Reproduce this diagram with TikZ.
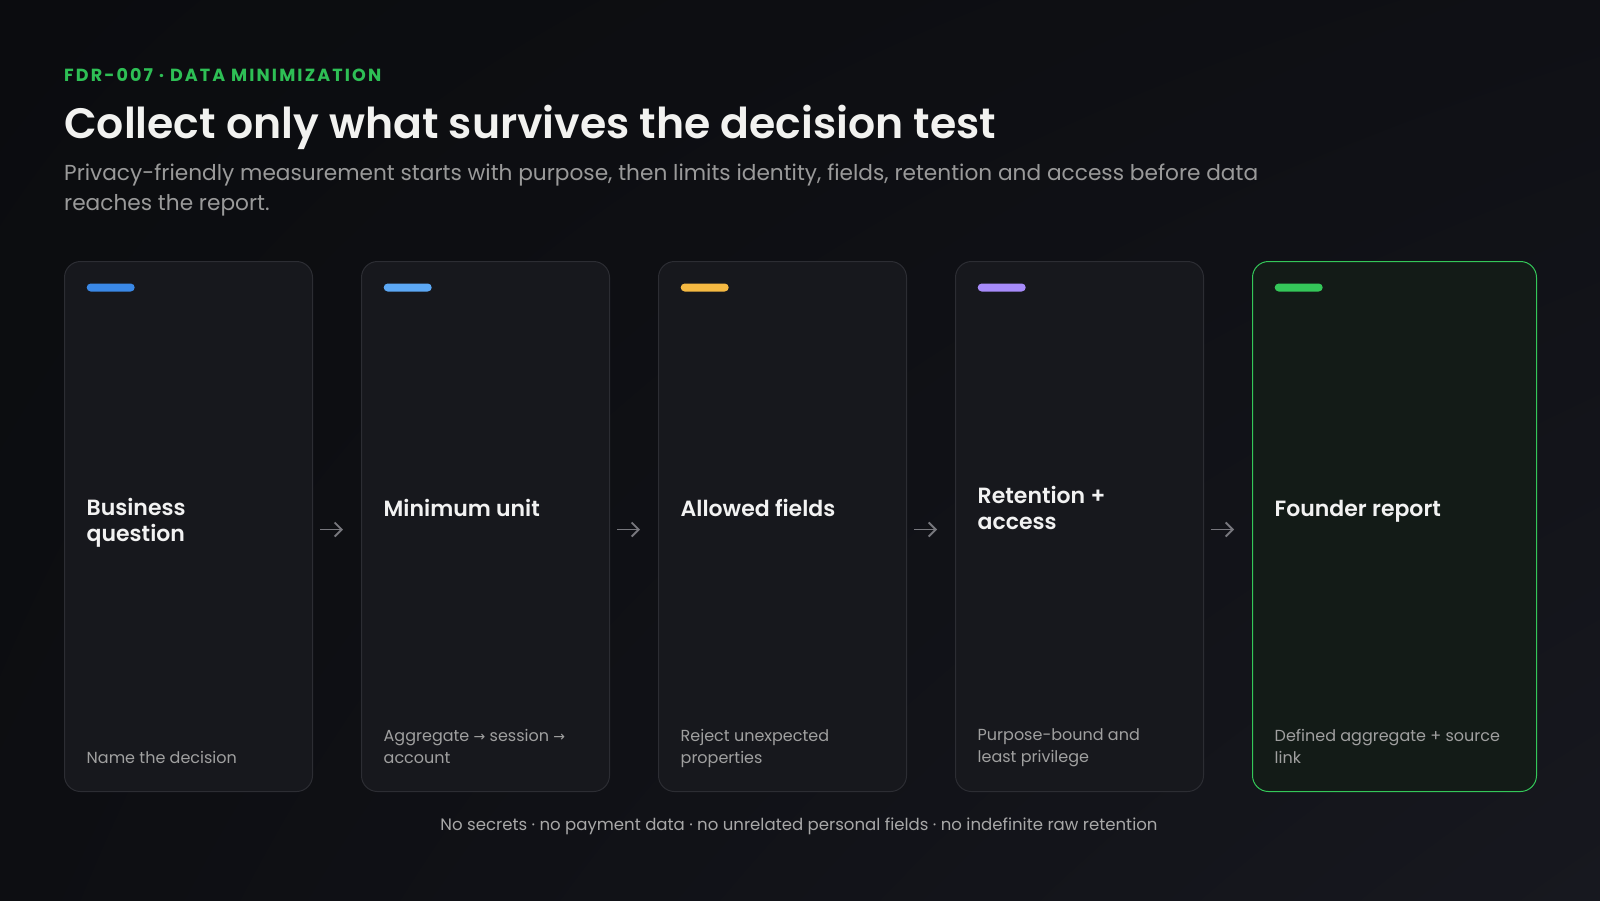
\documentclass[tikz,border=0pt]{standalone}
\usepackage{fontspec}
\usepackage{graphicx}
\setmainfont{Poppins}[BoldFont={* SemiBold}]
\newfontfamily\arrowfont{DejaVu Sans}
\newfontfamily\tagfont[LetterSpace=12]{Poppins}
\usetikzlibrary{arrows.meta,calc,shadings}
\definecolor{bgTL}{HTML}{0B0C0F}
\definecolor{bgTR}{HTML}{0F1015}
\definecolor{bgBL}{HTML}{0D0E12}
\definecolor{bgBR}{HTML}{17181F}
\definecolor{cardfill}{HTML}{17181D}
\definecolor{cardline}{HTML}{2C2D33}
\definecolor{greenfill}{HTML}{131B17}
\definecolor{greenline}{HTML}{34C759}
\definecolor{taggreen}{HTML}{2EBF55}
\definecolor{titlec}{HTML}{F2F2F0}
\definecolor{subc}{HTML}{9A9A9A}
\definecolor{headc}{HTML}{F2F2F2}
\definecolor{descc}{HTML}{A0A0A0}
\definecolor{footc}{HTML}{A8A8A8}
\definecolor{arrowc}{HTML}{77777D}
\definecolor{barA}{HTML}{3A88E6}
\definecolor{barB}{HTML}{5CA8F5}
\definecolor{barC}{HTML}{F5B942}
\definecolor{barD}{HTML}{A78BFA}
\definecolor{barE}{HTML}{34C759}
\begin{document}
\begin{tikzpicture}[x=1pt,y=-1pt,
  card/.style={draw=cardline, fill=cardfill, line width=1pt, rounded corners=16pt,
    minimum width=248pt, minimum height=530pt, inner sep=0pt, anchor=north west},
  greencard/.style={card, draw=greenline, fill=greenfill, minimum width=284pt},
  bar/.style={rounded corners=4pt, minimum width=48pt, minimum height=8pt, inner sep=0pt, anchor=west},
  head/.style={anchor=west, align=left, inner sep=0pt, text=headc, font=\fontsize{22}{26}\selectfont\bfseries},
  desc/.style={anchor=west, align=left, inner sep=0pt, text=descc, font=\fontsize{16}{22}\selectfont},
  conn/.style={draw=arrowc, line width=1.9pt, -{Straight Barb[length=7pt,width=14pt]}}
]
\useasboundingbox (0,0) rectangle (1600,900);
\shade[upper left=bgTL, upper right=bgTR, lower left=bgBL, lower right=bgBR] (0,0) rectangle (1600,900);

\node[anchor=base west, inner sep=0pt, text=taggreen] (tag) at (64,81)
  {\resizebox{317pt}{!}{\tagfont\bfseries FDR-007 · DATA MINIMIZATION}};
\node[anchor=base west, inner sep=0pt, text=titlec] (title) at (64,138)
  {\resizebox{932pt}{!}{\bfseries Collect only what survives the decision test}};
\node[anchor=north west, inner sep=0pt, text=subc] (sub) at (64,159)
  {\resizebox{1194pt}{!}{\fontsize{21}{29}\selectfont\begin{tabular}{@{}l@{}}Privacy-friendly measurement starts with purpose, then limits identity, fields, retention and access before data\\reaches the report.\end{tabular}}};

\node[card] (c1) at (64,261) {};
\node[card] (c2) at (361,261) {};
\node[card] (c3) at (658,261) {};
\node[card] (c4) at (955,261) {};
\node[greencard] (c5) at (1252,261) {};

\foreach \c/\col in {c1/barA, c2/barB, c3/barC, c4/barD, c5/barE}{
  \node[bar, fill=\col] (bar-\c) at ($(\c.north west)+(22.5,26.5)$) {};
}

\node[head] (h1) at ($(c1.north west)+(22.5,262)$) {Business\\question};
\node[head] (h2) at ($(c2.north west)+(22.5,247)$) {Minimum unit};
\node[head] (h3) at ($(c3.north west)+(22.5,247)$) {Allowed fields};
\node[head] (h4) at ($(c4.north west)+(22.5,247)$) {Retention +\\access};
\node[head] (h5) at ($(c5.north west)+(22.5,250)$) {Founder report};

\node[desc] (d1) at ($(c1.north west)+(22.5,496)$) {Name the decision};
\node[desc] (d2) at ($(c2.north west)+(22.5,485)$) {Aggregate {\arrowfont\fontsize{14}{22}\selectfont →} session {\arrowfont\fontsize{14}{22}\selectfont →}\\account};
\node[desc] (d3) at ($(c3.north west)+(22.5,487)$) {Reject unexpected\\properties};
\node[desc] (d4) at ($(c4.north west)+(22.5,487)$) {Purpose-bound and\\least privilege};
\node[desc] (d5) at ($(c5.north west)+(22.5,485)$) {Defined aggregate + source\\link};

\draw[conn] ([xshift=7pt,yshift=-3pt]c1.east) -- ([xshift=-18pt,yshift=-3pt]c2.west);
\draw[conn] ([xshift=7pt,yshift=-3pt]c2.east) -- ([xshift=-18pt,yshift=-3pt]c3.west);
\draw[conn] ([xshift=7pt,yshift=-3pt]c3.east) -- ([xshift=-18pt,yshift=-3pt]c4.west);
\draw[conn] ([xshift=7pt,yshift=-3pt]c4.east) -- ([xshift=-18pt,yshift=-3pt]c5.west);

\node[anchor=base, inner sep=0pt, text=footc] (foot) at (799,830)
  {\resizebox{717pt}{!}{\fontsize{16}{20}\selectfont No secrets · no payment data · no unrelated personal fields · no indefinite raw retention}};
\end{tikzpicture}
\end{document}
